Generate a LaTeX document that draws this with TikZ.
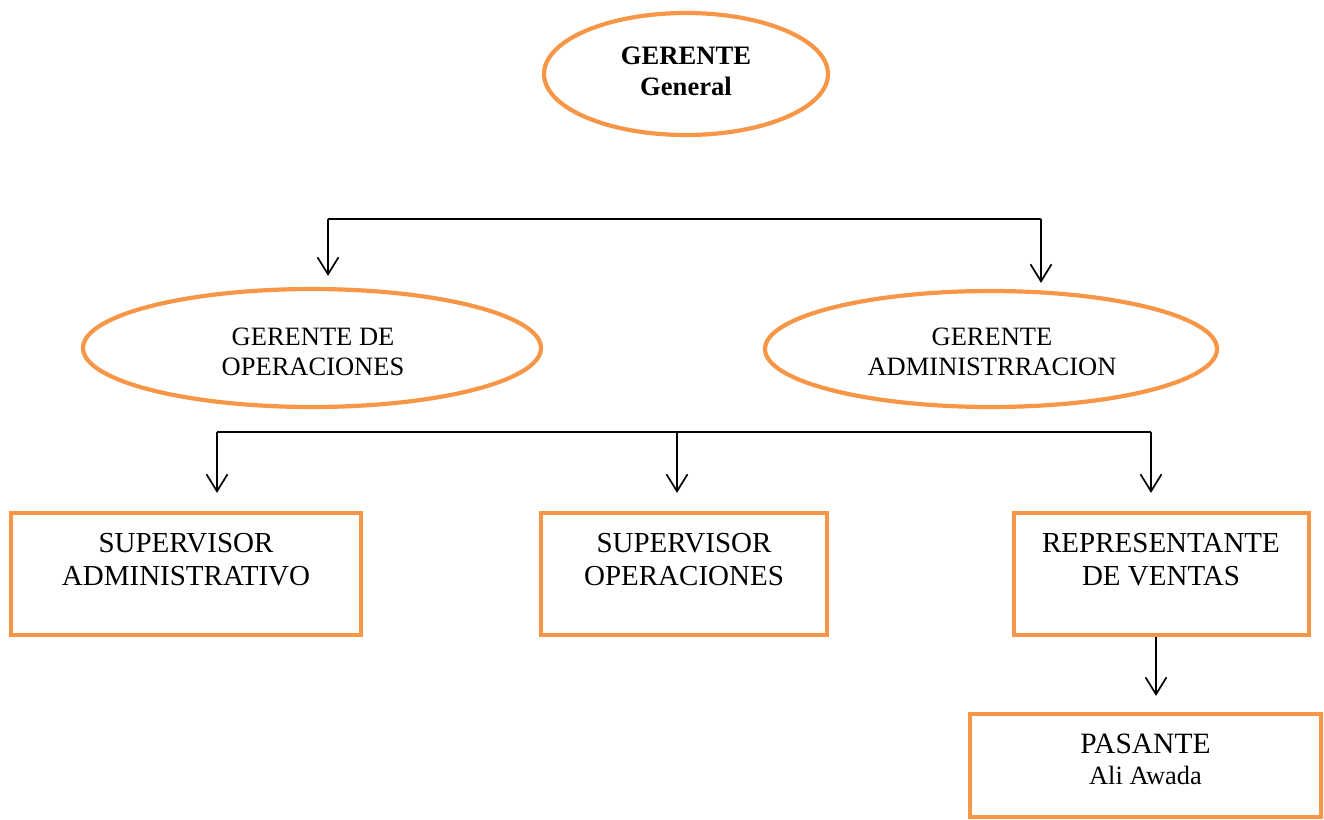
\documentclass[tikz,border=0pt]{standalone}
\usepackage{fontspec}
\setmainfont{Liberation Serif}
\usetikzlibrary{arrows.meta,shapes.geometric}
\definecolor{org}{HTML}{F79646}
\begin{document}
\begin{tikzpicture}[x=1pt,y=-1pt,
 ell/.style={draw=org,line width=4.2pt,ellipse,inner sep=0pt},
 box/.style={draw=org,line width=4.2pt,rectangle,inner sep=0pt},
 conn/.style={line width=1.7pt,black},
 arr/.style={conn,-{Straight Barb[length=17pt,width=21pt,line width=1.7pt]}},
 etext/.style={align=center,anchor=base,font=\fontsize{26.5}{30}\selectfont},
 btext/.style={align=center,anchor=base,font=\fontsize{29}{32.5}\selectfont},
]
\useasboundingbox (0,0) rectangle (1324,819);
% shapes
\node[ell,minimum width=284pt,minimum height=122pt] (gg) at (686,74) {};
\node[ell,minimum width=458pt,minimum height=118pt] (ops) at (312,348) {};
\node[ell,minimum width=452pt,minimum height=116pt] (adm) at (991,349) {};
\node[box,minimum width=350pt,minimum height=122pt] (b1) at (186,574) {};
\node[box,minimum width=286pt,minimum height=122pt] (b2) at (684,574) {};
\node[box,minimum width=295pt,minimum height=122pt] (b3) at (1161.5,574) {};
\node[box,minimum width=351pt,minimum height=103pt] (b4) at (1145.5,765.5) {};
% texts (anchor base = baseline of the last line)
\node[align=center,anchor=base,font=\bfseries\fontsize{26.6}{31}\selectfont] (tg) at (686,95) {GERENTE\\General};
\node[etext] (tops) at (313,375) {GERENTE DE\\OPERACIONES};
\node[etext] (tadm) at (992,375) {GERENTE\\ADMINISTRRACION};
\node[btext] (tb1) at (186,585) {SUPERVISOR\\ADMINISTRATIVO};
\node[btext] (tb2) at (684,585) {SUPERVISOR\\OPERACIONES};
\node[btext] (tb3) at (1161,585) {REPRESENTANTE\\DE VENTAS};
\node[align=center,anchor=base,font=\fontsize{29.5}{31}\selectfont] (tb4) at (1145.5,784) {PASANTE\\{\fontsize{26.4}{31}\selectfont Ali Awada}};
% connectors
\coordinate (t1) at (328,219);
\coordinate (t2) at (1041,219);
\draw[conn] (t1) -- (t2);
\draw[arr,shorten >=11pt] (t1) -- (t1 |- ops.north);
\draw[arr,shorten >=6pt] (t2) -- (t2 |- adm.north);
\coordinate (s1) at (217,432);
\coordinate (s2) at (677,432);
\coordinate (s3) at (1151,432);
\draw[conn] (s1) -- (s3);
\draw[arr,shorten >=18pt] (s1) -- (s1 |- b1.north);
\draw[arr,shorten >=18pt] (s2) -- (s2 |- b2.north);
\draw[arr,shorten >=18pt] (s3) -- (s3 |- b3.north);
\coordinate (r1) at ([xshift=-5.5pt]b3.south);
\draw[arr,shorten >=16pt] (r1) -- (r1 |- b4.north);
\end{tikzpicture}
\end{document}
